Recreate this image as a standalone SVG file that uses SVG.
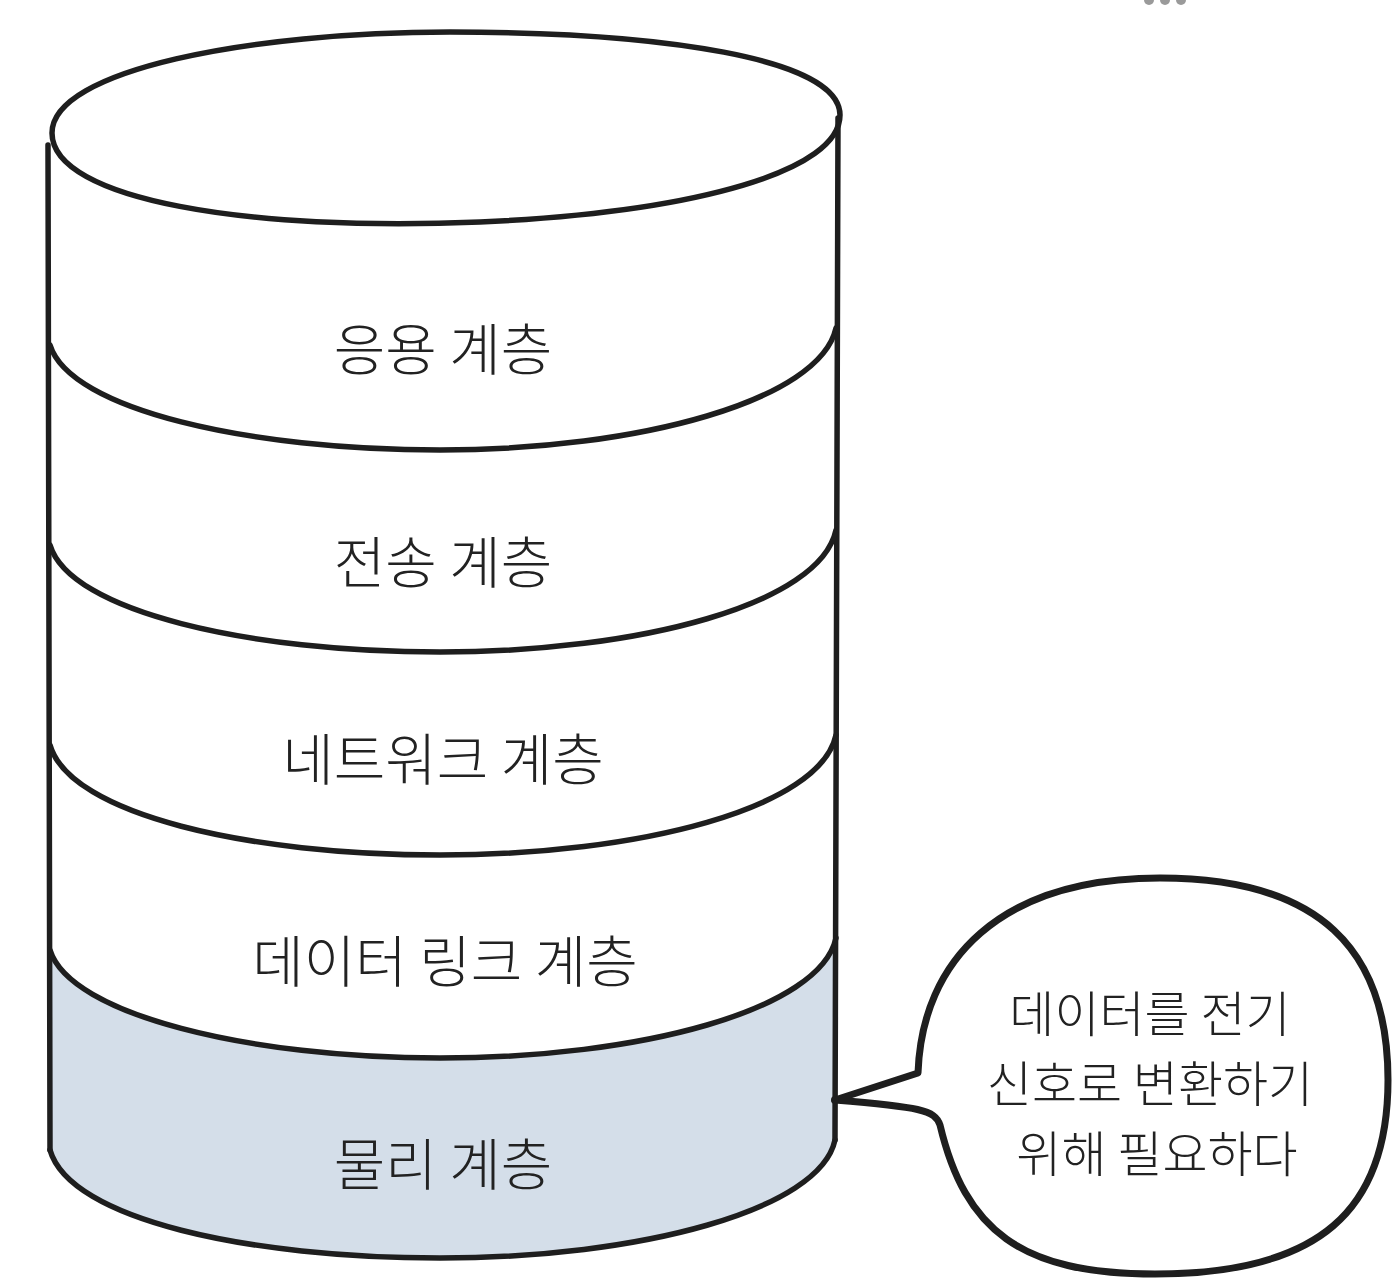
<svg xmlns="http://www.w3.org/2000/svg" width="1397" height="1284" viewBox="0 0 1397 1284">
<style>
.ln{fill:none;stroke:#1e1e1e;stroke-width:5.5;stroke-linecap:round;stroke-linejoin:round}
.lbl{font-family:"Noto Sans CJK KR","Noto Sans",sans-serif;font-weight:300;font-size:56px;fill:#222;text-anchor:middle;dominant-baseline:central}
.bub{font-family:"Noto Sans CJK KR","Noto Sans",sans-serif;font-weight:300;font-size:49px;fill:#222;text-anchor:middle;dominant-baseline:central}
</style>
<rect width="1397" height="1284" fill="#fff"/>
<g id="dots" fill="#9a9a9a">
<circle cx="1149" cy="0" r="5"/><circle cx="1165" cy="0" r="5"/><circle cx="1181" cy="0" r="5"/>
</g>
<g id="cylinder">
<path d="M50 950 C70 1015 250 1058 440 1058 C640 1058 820 1010 836 938 L835 1140 C820 1210 640 1258 440 1258 C250 1258 70 1220 50 1150 Z" fill="#d4dee9"/>
<path class="ln" d="M48 145 L50 1150"/>
<path class="ln" d="M838 118 L835 1140"/>
<path class="ln" d="M52 133 C52 70 250 32 450 32 C660 32 840 58 840 115 C840 170 700 212 480 222 C250 232 52 200 52 133 Z"/>
</g>
<g id="layer-app"><path class="ln" d="M50 345 C70 410 250 450 440 450 C640 450 820 400 836 328"/><text class="lbl" x="443" y="345">응용 계층</text></g>
<g id="layer-transport"><path class="ln" d="M50 545 C70 612 250 652 440 652 C640 652 820 604 836 530"/><text class="lbl" x="443" y="558">전송 계층</text></g>
<g id="layer-network"><path class="ln" d="M50 745 C70 815 250 855 440 855 C640 855 820 808 836 735"/><text class="lbl" x="443" y="755">네트워크 계층</text></g>
<g id="layer-datalink"><path class="ln" d="M50 950 C70 1015 250 1058 440 1058 C640 1058 820 1010 836 938"/><text class="lbl" x="445" y="957">데이터 링크 계층</text></g>
<g id="layer-physical"><path class="ln" d="M50 1150 C70 1220 250 1258 440 1258 C640 1258 820 1210 835 1140"/><text class="lbl" x="443" y="1160">물리 계층</text></g>
<g id="bubble">
<path d="M835 1100 L918 1073 C922 960 1000 878 1160 878 C1320 878 1388 950 1388 1080 C1388 1210 1320 1274 1155 1274 C1020 1274 965 1230 940 1125 C935 1110 920 1107 835 1100 Z" fill="#fff" stroke="#1e1e1e" stroke-width="7" stroke-linejoin="round"/>
<circle cx="835" cy="1100" r="4" fill="#1e1e1e"/>
<text class="bub" x="1150" y="1010">데이터를 전기</text>
<text class="bub" x="1150" y="1080">신호로 변환하기</text>
<text class="bub" x="1157" y="1150">위해 필요하다</text>
</g>
</svg>
